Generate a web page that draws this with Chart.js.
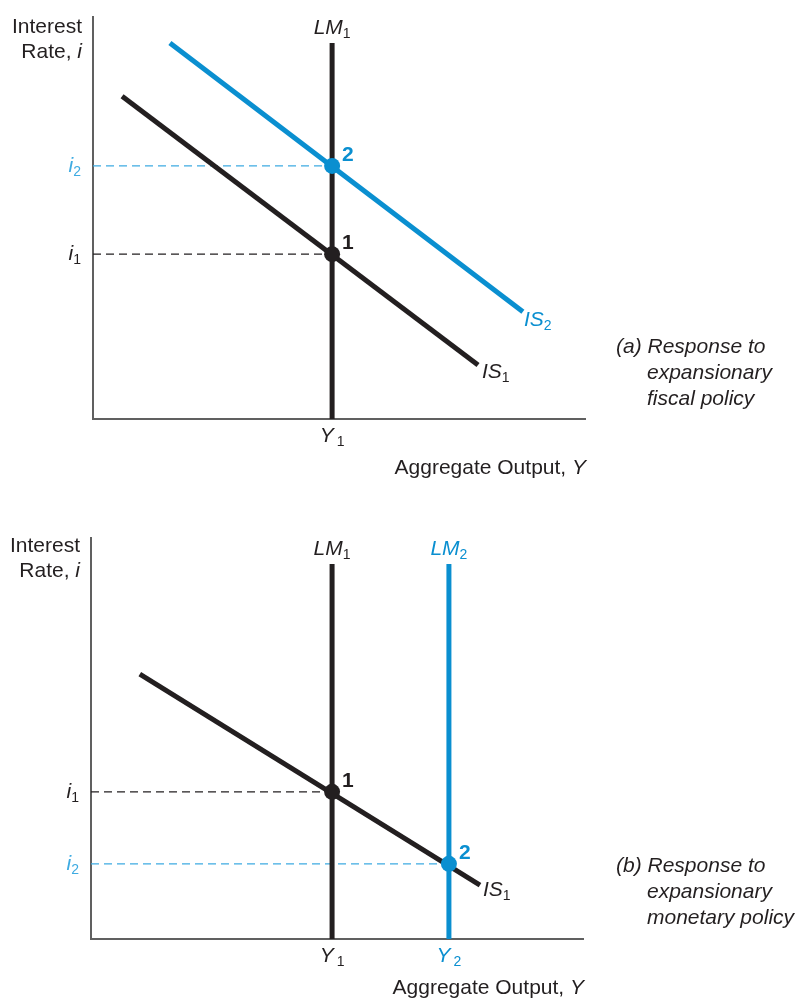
<!DOCTYPE html>
<html>
<head>
<meta charset="utf-8">
<script src="https://cdn.jsdelivr.net/npm/chart.js@4.4.1/dist/chart.umd.min.js"></script>
<style>
    body { margin: 0; background: #fff; }
    #wrap { position: relative; width: 799px; height: 999px; }
    canvas { position: absolute; left: 0; }
    #chartA { top: 0; }
    #chartB { top: 500px; }
</style>
</head>
<body>
<div id="wrap">
    <canvas id="chartA" width="799" height="500"></canvas>
    <canvas id="chartB" width="799" height="499"></canvas>
</div>
<script>
// --- Data (axis units 0-100 on both axes) ---
const axisMin = 0;
const axisMax = 100;

// panel (a): fiscal expansion
const aLM1x = [48.5, 48.5];
const aLM1y = [0, 93.3];
const aIS1x = [5.9, 78.1];
const aIS1y = [80.1, 13.4];
const aIS2x = [15.6, 87.2];
const aIS2y = [93.3, 26.6];
const aEqX = [48.5, 48.5];
const aEqI = [40.9, 62.8];
const aEqLabels = ['1', '2'];
const aRateLabels = ['1', '2'];   // i1, i2
const aOutputLabels = ['1'];      // Y1
const aCaption = ['(a) Response to', 'expansionary', 'fiscal policy'];

// panel (b): monetary expansion
const bLM1x = [48.9, 48.9];
const bLM2x = [72.6, 72.6];
const bLMy = [0, 93.3];
const bIS1x = [9.9, 78.9];
const bIS1y = [65.9, 13.4];
const bEqX = [48.9, 72.6];
const bEqI = [36.6, 18.7];
const bEqLabels = ['1', '2'];
const bRateLabels = ['1', '2'];
const bOutputLabels = ['1', '2'];
const bCaption = ['(b) Response to', 'expansionary', 'monetary policy'];

// --- Styles ---
const BLACK = '#231f20';
const BLUE = '#0a8fd0';
const LIGHT_BLUE = '#3eabe2';
const AXIS = '#606060';
const FONT = '"Liberation Sans", Arial, sans-serif';

const pts = (xs, ys) => xs.map((x, i) => ({ x: x, y: ys[i] }));

function curve(data, color, order) {
    return {
        data: data, borderColor: color, borderWidth: 5, pointRadius: 0,
        showLine: true, fill: false, order: order, clip: false, borderCapStyle: 'butt'
    };
}

function guide(x, y, color) {
    return {
        data: [{ x: axisMin, y: y }, { x: x, y: y }], borderColor: color, borderWidth: 1.4,
        borderDash: [8, 5], pointRadius: 0, showLine: true, fill: false, order: 3, clip: false
    };
}

function dot(x, y, color) {
    return {
        data: [{ x: x, y: y }], pointRadius: 8, pointBackgroundColor: color,
        pointBorderWidth: 0, showLine: false, order: 0, clip: false
    };
}

// draw text made of parts: {t, italic, bold, sub, color}
function drawParts(ctx, parts, x, y, align) {
    const size = 21, subSize = 14;
    const fontOf = p => `${p.italic ? 'italic ' : ''}${p.bold ? 'bold ' : ''}${p.sub ? subSize : size}px ${FONT}`;
    let total = 0;
    parts.forEach(p => { ctx.font = fontOf(p); total += ctx.measureText(p.t).width + (p.gap || 0); });
    let cx = align === 'right' ? x - total : align === 'center' ? x - total / 2 : x;
    ctx.textAlign = 'left';
    ctx.textBaseline = 'middle';
    parts.forEach(p => {
        ctx.font = fontOf(p);
        ctx.fillStyle = p.color || BLACK;
        cx += p.gap || 0;
        ctx.fillText(p.t, cx, p.sub ? y + 6 : y);
        cx += ctx.measureText(p.t).width;
    });
}

function axesPlugin() {
    return {
        id: 'axes',
        beforeDatasetsDraw(chart) {
            const { ctx, chartArea: a } = chart;
            ctx.save();
            ctx.strokeStyle = AXIS;
            ctx.lineWidth = 2;
            ctx.beginPath();
            ctx.moveTo(a.left, a.top);
            ctx.lineTo(a.left, a.bottom);
            ctx.lineTo(a.right, a.bottom);
            ctx.stroke();
            ctx.restore();
        }
    };
}

function labelsPlugin(cfg) {
    return {
        id: 'labels',
        afterDatasetsDraw(chart) {
            const { ctx, chartArea: a } = chart;
            const xs = chart.scales.x, ys = chart.scales.y;
            ctx.save();
            // y axis title
            drawParts(ctx, [{ t: 'Interest' }], a.left - 11, a.top + cfg.titleDy, 'right');
            drawParts(ctx, [{ t: 'Rate, ' }, { t: 'i', italic: true }], a.left - 11, a.top + cfg.titleDy + 25, 'right');
            // x axis title
            drawParts(ctx, [{ t: 'Aggregate Output, ' }, { t: 'Y', italic: true }], a.right, a.bottom + 49, 'right');
            // LM labels
            cfg.lm.forEach(l => {
                drawParts(ctx, [{ t: 'LM', italic: true, color: l.color }, { t: l.sub, sub: true, color: l.color }],
                    xs.getPixelForValue(l.x), a.top + cfg.lmDy, 'center');
            });
            // IS labels
            cfg.is.forEach(l => {
                drawParts(ctx, [{ t: 'IS', italic: true, color: l.color }, { t: l.sub, sub: true, color: l.color }],
                    xs.getPixelForValue(l.x) + l.dx, ys.getPixelForValue(l.y) + l.dy, 'left');
            });
            // rate ticks i1, i2
            cfg.rates.forEach(r => {
                drawParts(ctx, [{ t: 'i', italic: true, color: r.color }, { t: r.sub, sub: true, color: r.color }],
                    a.left - 12, ys.getPixelForValue(r.y), 'right');
            });
            // output ticks Y1, Y2
            cfg.outputs.forEach(o => {
                drawParts(ctx, [{ t: 'Y', italic: true, color: o.color }, { t: o.sub, sub: true, color: o.color, gap: 3 }],
                    xs.getPixelForValue(o.x), a.bottom + 17, 'center');
            });
            // equilibrium numbers
            cfg.eq.forEach(e => {
                drawParts(ctx, [{ t: e.t, bold: true, color: e.color }],
                    xs.getPixelForValue(e.x) + 10, ys.getPixelForValue(e.y) - 11, 'left');
            });
            // caption
            cfg.caption.forEach((line, i) => {
                drawParts(ctx, [{ t: line, italic: true }], i === 0 ? 616 : 647, cfg.capY + i * 26, 'left');
            });
            ctx.restore();
        }
    };
}

function makeChart(id, datasets, padding, cfg) {
    return new Chart(document.getElementById(id), {
        type: 'scatter',
        data: { datasets: datasets },
        options: {
            responsive: false,
            animation: false,
            layout: { padding: padding },
            plugins: { legend: { display: false }, tooltip: { enabled: false } },
            scales: {
                x: { type: 'linear', min: axisMin, max: axisMax, display: false },
                y: { type: 'linear', min: axisMin, max: axisMax, display: false }
            }
        },
        plugins: [axesPlugin(), labelsPlugin(cfg)]
    });
}

// --- Panel (a) ---
makeChart('chartA', [
    dot(aEqX[0], aEqI[0], BLACK),
    dot(aEqX[1], aEqI[1], BLUE),
    curve(pts(aIS2x, aIS2y), BLUE, 1),
    curve(pts(aIS1x, aIS1y), BLACK, 1),
    curve(pts(aLM1x, aLM1y), BLACK, 2),
    guide(aEqX[0], aEqI[0], BLACK),
    guide(aEqX[1], aEqI[1], LIGHT_BLUE)
], { left: 93, top: 16, right: 213, bottom: 81 }, {
    titleDy: 11, lmDy: 12, capY: 347,
    lm: [{ x: aLM1x[0], sub: '1', color: BLACK }],
    is: [
        { x: aIS1x[1], y: aIS1y[1], sub: '1', color: BLACK, dx: 4, dy: 7 },
        { x: aIS2x[1], y: aIS2y[1], sub: '2', color: BLUE, dx: 1, dy: 8 }
    ],
    rates: [
        { y: aEqI[0], sub: aRateLabels[0], color: BLACK },
        { y: aEqI[1], sub: aRateLabels[1], color: LIGHT_BLUE }
    ],
    outputs: [{ x: aEqX[0], sub: aOutputLabels[0], color: BLACK }],
    eq: [
        { x: aEqX[0], y: aEqI[0], t: aEqLabels[0], color: BLACK },
        { x: aEqX[1], y: aEqI[1], t: aEqLabels[1], color: BLUE }
    ],
    caption: aCaption
});

// --- Panel (b) ---
makeChart('chartB', [
    dot(bEqX[0], bEqI[0], BLACK),
    dot(bEqX[1], bEqI[1], BLUE),
    curve(pts(bIS1x, bIS1y), BLACK, 1),
    curve(pts(bLM1x, bLMy), BLACK, 2),
    curve(pts(bLM2x, bLMy), BLUE, 2),
    guide(bEqX[0], bEqI[0], BLACK),
    guide(bEqX[1], bEqI[1], LIGHT_BLUE)
], { left: 91, top: 37, right: 215, bottom: 60 }, {
    titleDy: 9, lmDy: 12, capY: 366,
    lm: [
        { x: bLM1x[0], sub: '1', color: BLACK },
        { x: bLM2x[0], sub: '2', color: BLUE }
    ],
    is: [{ x: bIS1x[1], y: bIS1y[1], sub: '1', color: BLACK, dx: 3, dy: 5 }],
    rates: [
        { y: bEqI[0], sub: bRateLabels[0], color: BLACK },
        { y: bEqI[1], sub: bRateLabels[1], color: LIGHT_BLUE }
    ],
    outputs: [
        { x: bEqX[0], sub: bOutputLabels[0], color: BLACK },
        { x: bEqX[1], sub: bOutputLabels[1], color: BLUE }
    ],
    eq: [
        { x: bEqX[0], y: bEqI[0], t: bEqLabels[0], color: BLACK },
        { x: bEqX[1], y: bEqI[1], t: bEqLabels[1], color: BLUE }
    ],
    caption: bCaption
});
</script>
</body>
</html>
